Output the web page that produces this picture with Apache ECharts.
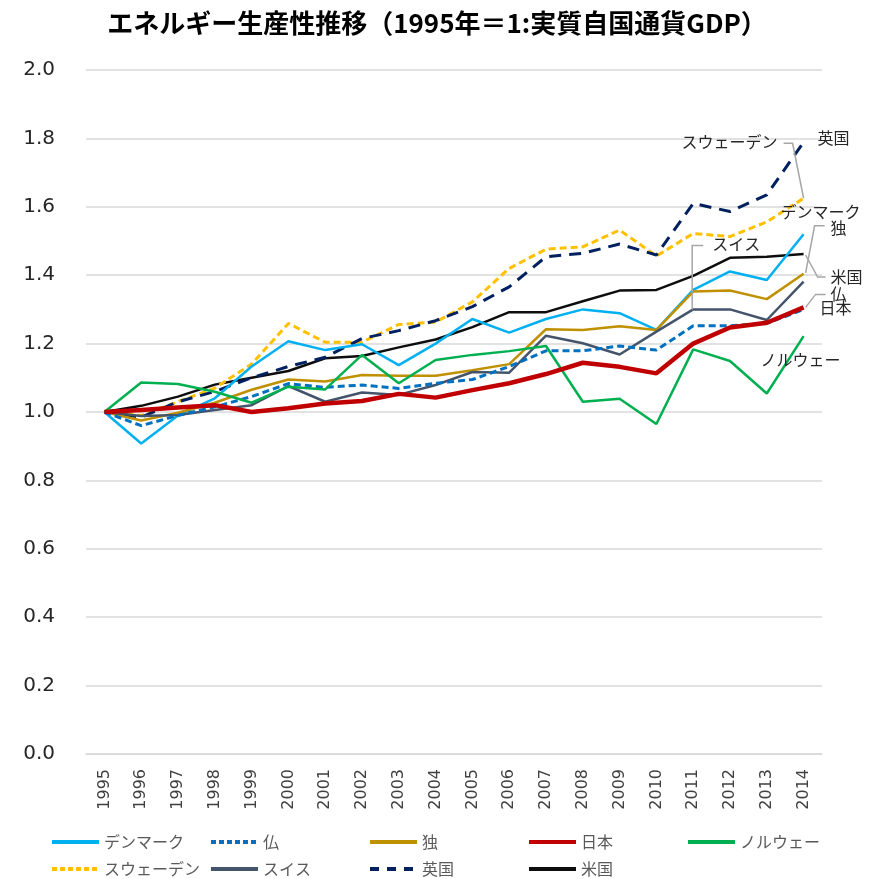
<!DOCTYPE html>
<html><head><meta charset="utf-8">
<script src="https://cdn.jsdelivr.net/npm/echarts@6/dist/echarts.min.js"></script>
<style>html,body{margin:0;padding:0;background:#fff}#c{width:874px;height:879px}</style>
</head><body><div id="c"></div>
<script>
const years = ['1995','1996','1997','1998','1999','2000','2001','2002','2003','2004','2005','2006','2007','2008','2009','2010','2011','2012','2013','2014'];
const yTicks = [0, 0.2, 0.4, 0.6, 0.8, 1.0, 1.2, 1.4, 1.6, 1.8, 2.0];
const denmark = [1.000,0.908,0.990,1.040,1.133,1.207,1.181,1.198,1.137,1.200,1.272,1.232,1.272,1.300,1.289,1.240,1.357,1.411,1.386,1.520];
const france  = [1.000,0.960,0.990,1.015,1.045,1.083,1.072,1.079,1.069,1.084,1.095,1.133,1.179,1.179,1.193,1.181,1.252,1.252,1.259,1.300];
const germany = [1.000,0.975,0.998,1.027,1.065,1.095,1.089,1.108,1.106,1.106,1.122,1.140,1.242,1.240,1.251,1.240,1.352,1.355,1.330,1.404];
const japan   = [1.000,1.006,1.013,1.020,1.000,1.011,1.025,1.032,1.053,1.042,1.064,1.084,1.111,1.144,1.132,1.113,1.200,1.247,1.261,1.306];
const norway  = [1.000,1.086,1.082,1.059,1.027,1.074,1.066,1.167,1.084,1.152,1.167,1.178,1.193,1.030,1.039,0.965,1.183,1.149,1.054,1.222];
const sweden  = [1.000,0.990,1.030,1.070,1.140,1.259,1.204,1.204,1.256,1.263,1.322,1.420,1.476,1.483,1.532,1.456,1.522,1.513,1.556,1.625];
const swiss   = [1.000,0.988,0.991,1.006,1.020,1.076,1.030,1.057,1.050,1.079,1.117,1.115,1.223,1.201,1.168,1.235,1.300,1.300,1.269,1.381];
const uk      = [1.000,0.985,1.030,1.060,1.100,1.133,1.160,1.215,1.238,1.267,1.308,1.366,1.454,1.464,1.491,1.459,1.610,1.586,1.635,1.789];
const us      = [1.000,1.018,1.045,1.080,1.100,1.120,1.157,1.164,1.189,1.212,1.248,1.292,1.292,1.324,1.355,1.357,1.398,1.451,1.454,1.462];

const seriesDefs = [
  {name:'デンマーク', data:denmark, color:'#00B0F0', width:2.5, type:'solid', ltype:'solid'},
  {name:'仏', data:france, color:'#0070C0', width:3, type:[7,4], ltype:[5,3]},
  {name:'独', data:germany, color:'#BF9000', width:2.5, type:'solid', ltype:'solid'},
  {name:'日本', data:japan, color:'#C00000', width:4.5, type:'solid', ltype:'solid'},
  {name:'ノルウェー', data:norway, color:'#00B050', width:2.5, type:'solid', ltype:'solid'},
  {name:'スウェーデン', data:sweden, color:'#FFC000', width:3, type:[7,4], ltype:[5,3]},
  {name:'スイス', data:swiss, color:'#44546A', width:2.5, type:'solid', ltype:'solid'},
  {name:'英国', data:uk, color:'#002060', width:3, type:[12,8], ltype:[9,8]},
  {name:'米国', data:us, color:'#0D0D0D', width:2.5, type:'solid', ltype:'solid'}
];
const drawOrder = ['米国','スウェーデン','英国','デンマーク','独','スイス','仏','ノルウェー','日本'];

const font = '"Noto Sans CJK JP", sans-serif';
const chart = echarts.init(document.getElementById('c'));
const series = drawOrder.map(n => {
  const d = seriesDefs.find(s => s.name === n);
  return {name:d.name, type:'line', data:d.data, symbol:'none', smooth:false,
    z: n==='日本'?5:3,
    lineStyle:{color:d.color, width:d.width, type:d.type}, itemStyle:{color:d.color}};
});
const legends = seriesDefs.map((d,i) => {
  const col = i % 5, row = Math.floor(i/5);
  return {data:[d.name], left:45 + 159*col, top: row===0 ? 829 : 856, itemWidth:47, itemHeight:12, itemGap:0,
    itemStyle:{color:'transparent', borderColor:'transparent', borderWidth:0},
    lineStyle:{width:4, type:d.ltype},
    textStyle:{color:'#595959', fontSize:16, fontFamily:font}, selectedMode:false};
});
chart.setOption({
  animation:false,
  title:{text:'エネルギー生産性推移（1995年＝1:実質自国通貨GDP）', left:'center', top:5,
    textStyle:{fontSize:26, fontWeight:'bold', color:'#000', fontFamily:font}},
  legend: legends,
  grid:{left:86, right:52, top:70, bottom:125},
  xAxis:{type:'category', data:years, boundaryGap:true,
    axisLine:{lineStyle:{color:'#d9d9d9', width:1.5}}, axisTick:{show:false},
    axisLabel:{rotate:90, fontSize:16, color:'#404040', fontFamily:'"DejaVu Sans", sans-serif', margin:15}},
  yAxis:{type:'value', min:yTicks[0], max:yTicks[yTicks.length-1], interval:0.2,
    axisLine:{show:false}, axisTick:{show:false},
    splitLine:{lineStyle:{color:'#d9d9d9', width:1.5}},
    axisLabel:{formatter:v=>v.toFixed(1), fontSize:20, color:'#262626', fontFamily:'"DejaVu Sans", sans-serif', margin:31}},
  series: series
});

// annotations anchored to data points
const annots = [
  {name:'英国', idx:19, text:'英国', dx:14, dy:-4, align:'left'},
  {name:'スウェーデン', idx:19, text:'スウェーデン', dx:-26, dy:-56, align:'right', leader:[[0,0],[-11,-55],[-20,-55]]},
  {name:'デンマーク', idx:19, text:'デンマーク', dx:-23, dy:-22, align:'left'},
  {name:'独', idx:19, text:'独', dx:27, dy:-46, align:'left', leader:[[2,-1],[11,-48],[21,-48]]},
  {name:'米国', idx:19, text:'米国', dx:27, dy:23, align:'left', leader:[[2,1],[14,23],[22,23]]},
  {name:'仏', idx:19, text:'仏', dx:27, dy:-15, align:'left', leader:[[2,-2],[12,-15],[22,-15]]},
  {name:'日本', idx:19, text:'日本', dx:16, dy:1, align:'left'},
  {name:'スイス', idx:16, text:'スイス', dx:19, dy:-65, align:'left', leader:[[-1,0],[-1,-64],[10,-64]]},
  {name:'ノルウェー', idx:19, text:'ノルウェー', dx:-43, dy:24, align:'left'}
];
const g = [];
annots.forEach(a => {
  const d = seriesDefs.find(s => s.name === a.name);
  const p = chart.convertToPixel({xAxisIndex:0, yAxisIndex:0}, [a.idx, d.data[a.idx]]);
  if (a.leader) {
    g.push({type:'polyline', shape:{points:a.leader.map(q=>[p[0]+q[0], p[1]+q[1]])},
      style:{stroke:'#a6a6a6', lineWidth:1.5, fill:null}, z:10});
  }
  g.push({type:'text', x:p[0]+a.dx, y:p[1]+a.dy, z:11,
    style:{text:a.text, fontSize:16, fill:'#262626', fontFamily:font, textAlign:a.align, textVerticalAlign:'middle'}});
});
chart.setOption({graphic:g});
</script></body></html>
